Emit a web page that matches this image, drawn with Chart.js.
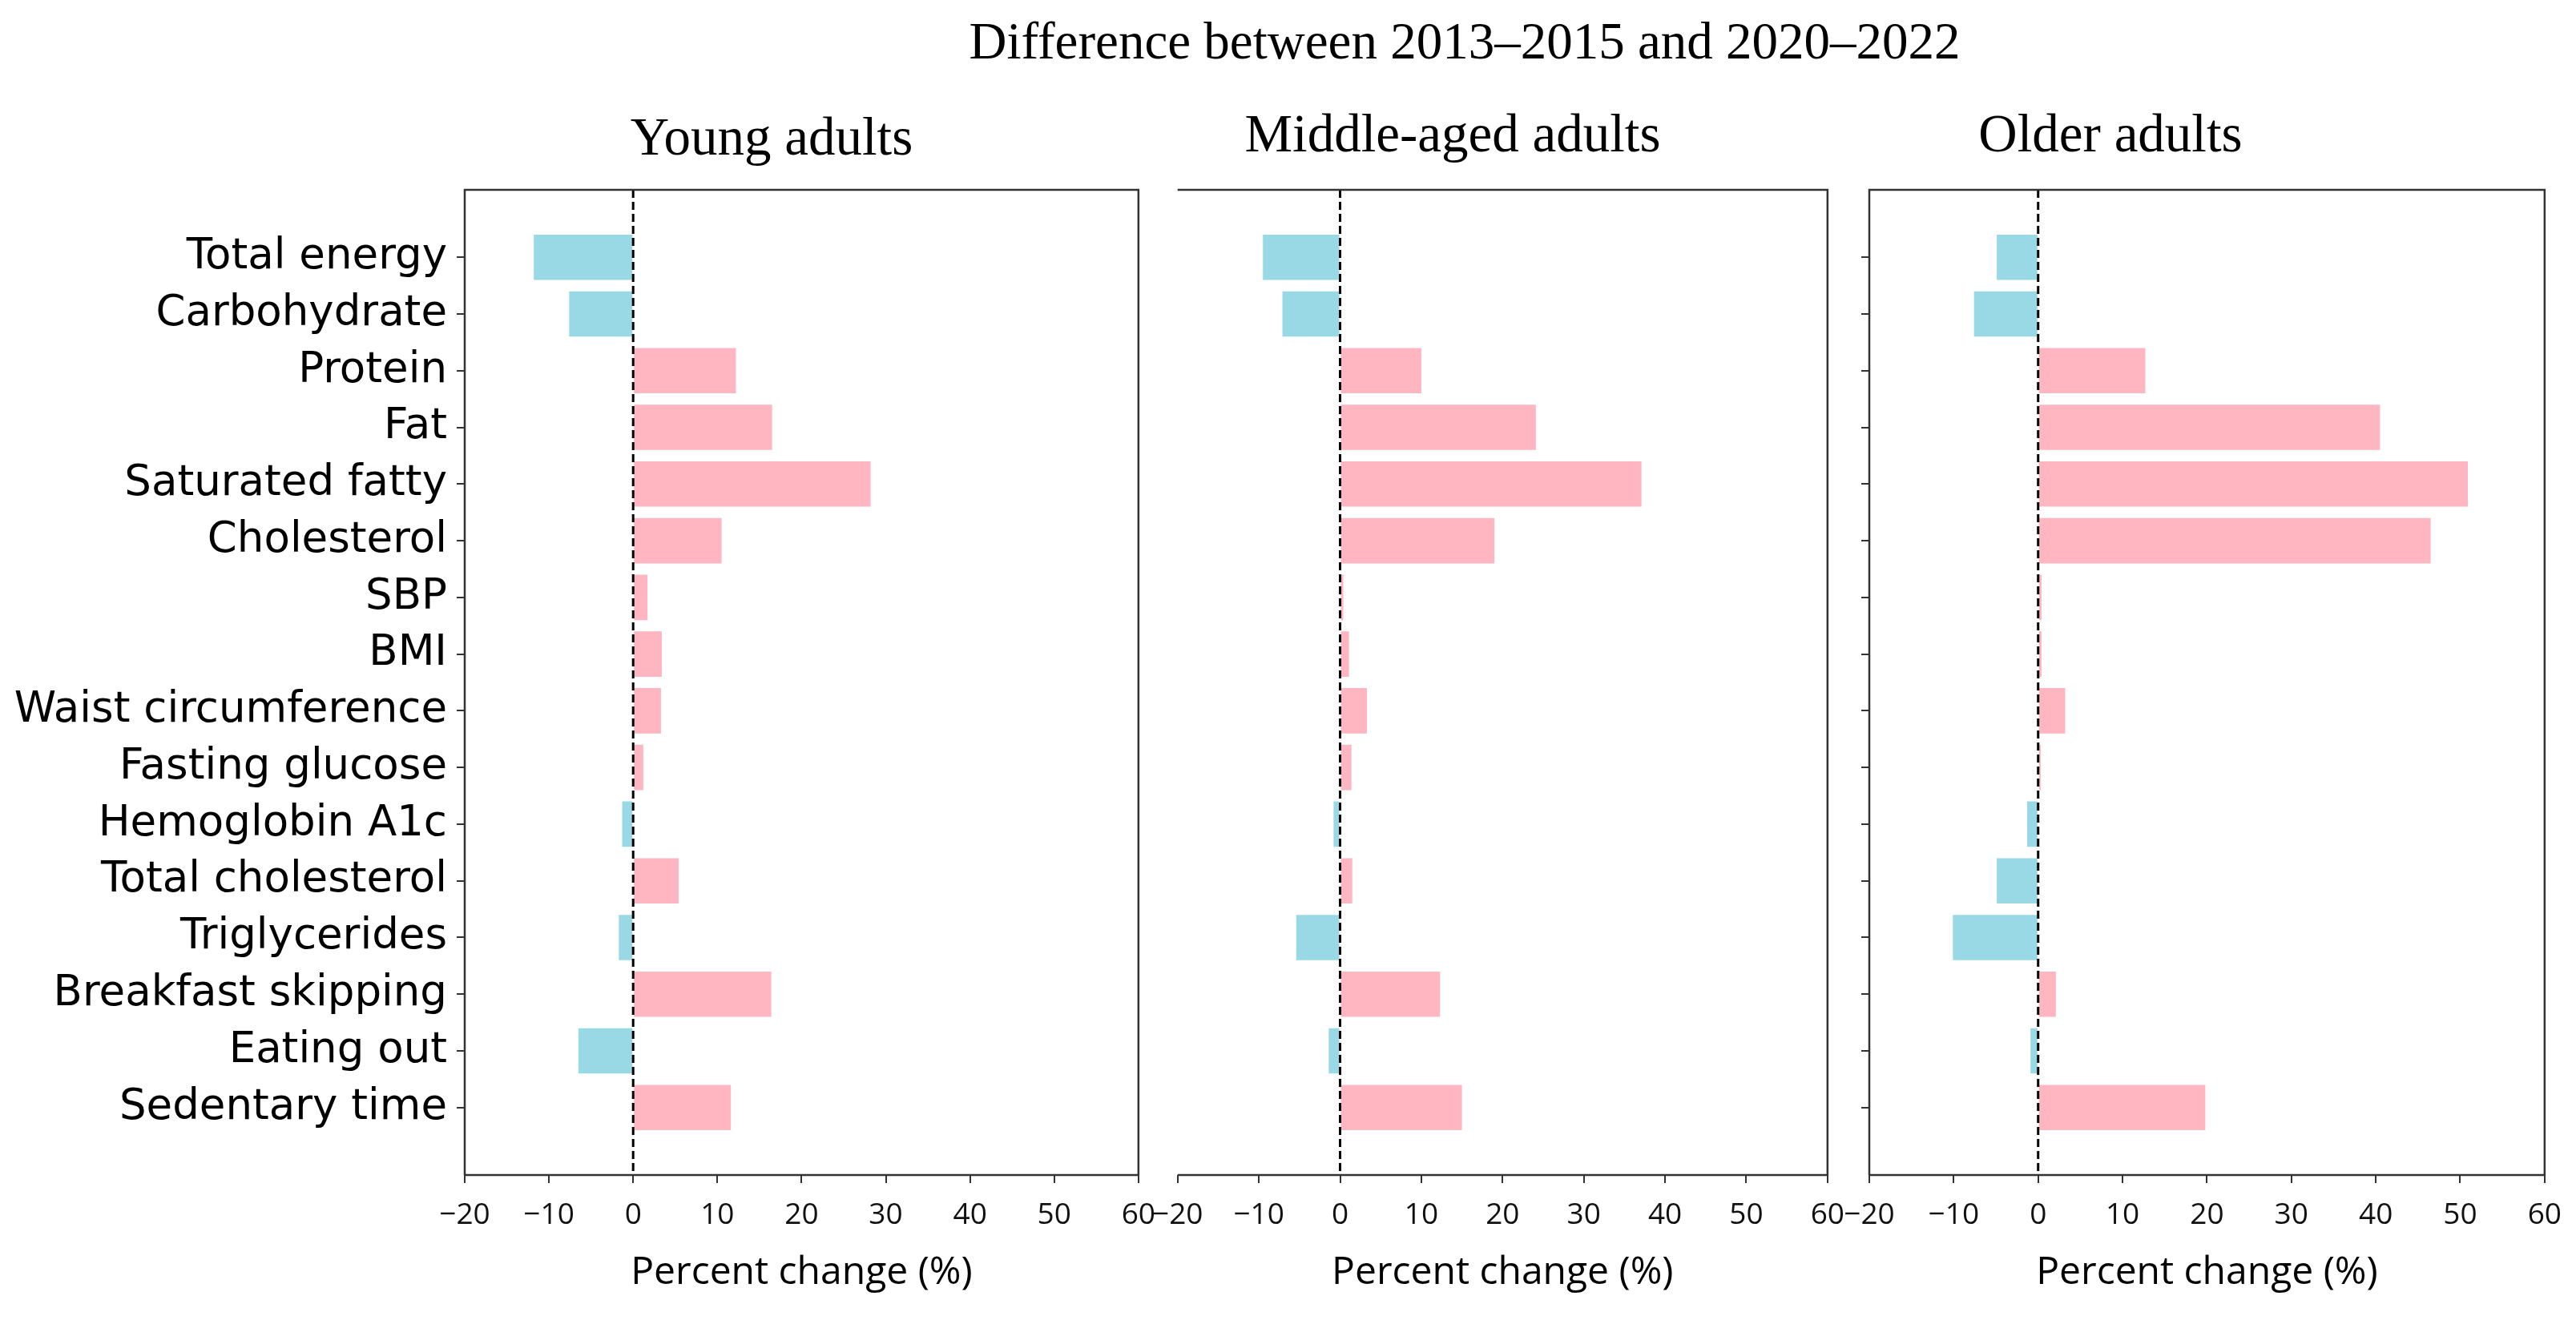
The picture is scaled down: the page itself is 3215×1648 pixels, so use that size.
<!DOCTYPE html>
<html>
<head>
<meta charset="utf-8">
<script src="https://cdn.jsdelivr.net/npm/chart.js@4"></script>
<style>
  body { margin: 0; background: #fff; width: 3215px; height: 1648px; position: relative; overflow: hidden; }
  canvas { position: absolute; top: 0; }
  .ttl { position: absolute; text-align: center; font-family: "Liberation Serif", "DejaVu Serif", serif; color: #000; line-height: 1; white-space: nowrap; }
</style>
</head>
<body>
<div class="ttl" style="left:828px; width:2000px; top:19px; font-size:65px;">Difference between 2013–2015 and 2020–2022</div>
<div class="ttl" style="left:463px; width:1000px; top:137px; font-size:67px;">Young adults</div>
<div class="ttl" style="left:1313px; width:1000px; top:133px; font-size:67px;">Middle-aged adults</div>
<div class="ttl" style="left:2134px; width:1000px; top:133px; font-size:67px;">Older adults</div>

<canvas id="chart-0"></canvas>
<canvas id="chart-1"></canvas>
<canvas id="chart-2"></canvas>

<script>
const categories = [
    "Total energy", "Carbohydrate", "Protein", "Fat", "Saturated fatty", "Cholesterol",
    "SBP", "BMI", "Waist circumference", "Fasting glucose", "Hemoglobin A1c",
    "Total cholesterol", "Triglycerides", "Breakfast skipping", "Eating out", "Sedentary time"
];
const youngAdults = [-11.8, -7.6, 12.2, 16.5, 28.2, 10.5, 1.7, 3.4, 3.3, 1.2, -1.3, 5.4, -1.7, 16.4, -6.5, 11.6];
const middleAgedAdults = [-9.5, -7.1, 10.0, 24.1, 37.1, 19.0, 0.4, 1.1, 3.3, 1.4, -0.8, 1.5, -5.4, 12.3, -1.4, 15.0];
const olderAdults = [-4.9, -7.6, 12.7, 40.5, 50.9, 46.5, 0.4, 0.4, 3.2, 0.3, -1.3, -4.9, -10.1, 2.1, -0.9, 19.8];
const xTicks = [-20, -10, 0, 10, 20, 30, 40, 50, 60];

const posColor = "#FFB6C1";
const negColor = "#99D8E5";

// where each panel sits on the page: canvas left/width, plot area left/right
const panels = [
    { values: youngAdults, canvasLeft: 0, canvasWidth: 1460, areaLeft: 580, areaRight: 1432, labels: true, ticks: true, leftSpine: true },
    { values: middleAgedAdults, canvasLeft: 1420, canvasWidth: 900, areaLeft: 1461, areaRight: 2291, labels: false, ticks: false, leftSpine: false },
    { values: olderAdults, canvasLeft: 2260, canvasWidth: 955, areaLeft: 2333, areaRight: 3184, labels: false, ticks: true, leftSpine: true }
];
const H = 1648;
const plotTop = 237;
const plotBottom = 1467;

const framePlugin = {
    id: "frame",
    afterDatasetsDraw(chart, args, opts) {
        const { ctx, chartArea: a, scales: { x } } = chart;
        const x0 = x.getPixelForValue(0);
        ctx.save();
        ctx.strokeStyle = "#000";
        ctx.lineWidth = 3;
        ctx.setLineDash([10, 5]);
        ctx.beginPath();
        ctx.moveTo(x0, a.top);
        ctx.lineTo(x0, a.bottom);
        ctx.stroke();
        ctx.setLineDash([]);
        ctx.strokeStyle = "#333";
        ctx.lineWidth = 2.5;
        ctx.beginPath();
        if (opts.left) {
            ctx.moveTo(a.left, a.bottom);
            ctx.lineTo(a.left, a.top);
        } else {
            ctx.moveTo(a.left, a.top);
        }
        ctx.lineTo(a.right, a.top);
        ctx.lineTo(a.right, a.bottom);
        ctx.lineTo(a.left, a.bottom);
        ctx.stroke();
        ctx.restore();
    }
};

function createChart(i) {
    const p = panels[i];
    const canvas = document.getElementById(`chart-${i}`);
    canvas.width = p.canvasWidth;
    canvas.height = H;
    canvas.style.left = p.canvasLeft + "px";
    canvas.style.width = p.canvasWidth + "px";
    canvas.style.height = H + "px";

    new Chart(canvas, {
        type: "bar",
        data: {
            datasets: [{
                data: p.values.map((v, k) => ({ x: v, y: k })),
                backgroundColor: p.values.map(v => v < 0 ? negColor : posColor),
                categoryPercentage: 0.8,
                barPercentage: 1.0
            }]
        },
        options: {
            indexAxis: "y",
            responsive: false,
            animation: false,
            devicePixelRatio: 1,
            layout: { padding: { top: plotTop, left: 0, right: p.canvasLeft + p.canvasWidth - p.areaRight, bottom: 0 } },
            plugins: {
                legend: { display: false },
                tooltip: { enabled: false },
                frame: { left: p.leftSpine }
            },
            scales: {
                x: {
                    type: "linear",
                    min: -20,
                    max: 60,
                    afterBuildTicks: s => { s.ticks = xTicks.map(v => ({ value: v })); },
                    afterFit: s => { s.height = H - plotBottom; },
                    border: { display: false },
                    grid: { drawOnChartArea: false, drawTicks: true, tickLength: 10, color: "#333", lineWidth: 2 },
                    ticks: {
                        color: "#111",
                        padding: 18,
                        maxRotation: 0,
                        autoSkip: false,
                        font: { family: "'Open Sans', sans-serif", size: 37 },
                        callback: v => v < 0 ? "\u2212" + Math.abs(v) : String(v)
                    },
                    title: {
                        display: true,
                        text: "Percent change (%)",
                        color: "#000",
                        font: { family: "'Open Sans', sans-serif", size: 48 },
                        padding: { top: 0, bottom: 30 }
                    }
                },
                y: {
                    type: "linear",
                    reverse: true,
                    offset: false,
                    min: -1.19,
                    max: 16.19,
                    afterBuildTicks: s => { s.ticks = categories.map((c, k) => ({ value: k })); },
                    afterFit: s => { s.width = p.areaLeft - p.canvasLeft; },
                    border: { display: false },
                    grid: { display: p.ticks, offset: false, drawOnChartArea: false, drawTicks: true, tickLength: 10, color: "#333", lineWidth: 2 },
                    ticks: {
                        display: p.ticks,
                        color: "#000",
                        padding: 12,
                        autoSkip: false,
                        font: { family: "'DejaVu Sans', sans-serif", size: 53 },
                        callback: v => p.labels ? categories[v] : ""
                    }
                }
            }
        },
        plugins: [framePlugin]
    });
}

for (let i = 0; i < panels.length; i++) {
    createChart(i)
}
</script>
</body>
</html>
